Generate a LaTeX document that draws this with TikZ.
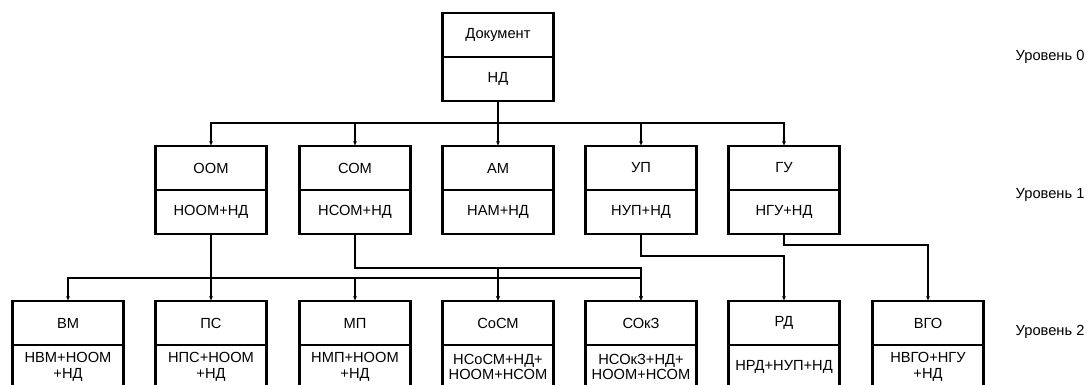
\documentclass[tikz,border=0pt]{standalone}
\usepackage{fontspec}
\setmainfont{Liberation Sans}
\usetikzlibrary{positioning,arrows.meta}

\begin{document}
\begin{tikzpicture}[x=0.75pt, y=-0.75pt,
		box/.style={draw, line width=1.6pt, outer sep=0pt, inner sep=0pt, minimum width=83.25pt, minimum height=33pt, align=center, font=\fontsize{11}{11.5}\selectfont},
		bus/.style={line width=1.3pt, -{Latex[length=3.5pt,width=3pt]}},
		wire/.style={line width=0.8pt, -{Latex[length=3.5pt,width=3pt]}},
		lvl/.style={anchor=west, font=\fontsize{11}{11}\selectfont}]
		\useasboundingbox (0,0) rectangle (1089,385);
		\clip (0,0) rectangle (1089,385);
		\node[box] (doc) at (498,35) {Документ};
		\node[box, below=0pt of doc] (doc-n) {НД};
		\foreach \n/\x/\t/\b in {oom/211/ООМ/НООМ+НД, com/355/СОМ/НСОМ+НД, am/498/АМ/НАМ+НД, up/641/УП/НУП+НД, gu/784/ГУ/НГУ+НД} {
				\node[box] (\n) at (\x,168) {\t};
				\node[box, below=0pt of \n] (\n-n) {\b};
				\draw[bus] (doc-n.south) -- ++(0,22) -| (\n.north);
			}
		\foreach \n/\x/\t/\b in {vm/68/ВМ/{НВМ+НООМ\\+НД}, ps/211/ПС/{НПС+НООМ\\+НД}, mp/355/МП/{НМП+НООМ\\+НД}, socm/498/СоСМ/{НСоСМ+НД+\\НООМ+НСОМ}, sokz/641/СОкЗ/{НСОкЗ+НД+\\НООМ+НСОМ}, rd/784/РД/НРД+НУП+НД, vgo/928/ВГО/{НВГО+НГУ\\+НД}} {
				\node[box] (\n) at (\x,323) {\t};
				\node[box, below=0pt of \n] (\n-n) {\b};
			}
		\foreach \n in {vm, ps, mp, socm, sokz}
			\draw[bus] (oom-n.south) -- ++(0,44) -| (\n.north);
		\foreach \n in {socm, sokz}
			\draw[wire] (com-n.south) -- ++(0,34) -| (\n.north);
		\draw[bus] (up-n.south) -- ++(0,22) -| (rd.north);
		\draw[wire] (gu-n.south) -- ++(0,11) -| (vgo.north);
		\node[lvl] (lvl0) at (1011,57) {Уровень 0};
		\node[lvl] (lvl1) at (1011,195) {Уровень 1};
		\node[lvl] (lvl2) at (1011,332) {Уровень 2};
	\end{tikzpicture}
\end{document}
